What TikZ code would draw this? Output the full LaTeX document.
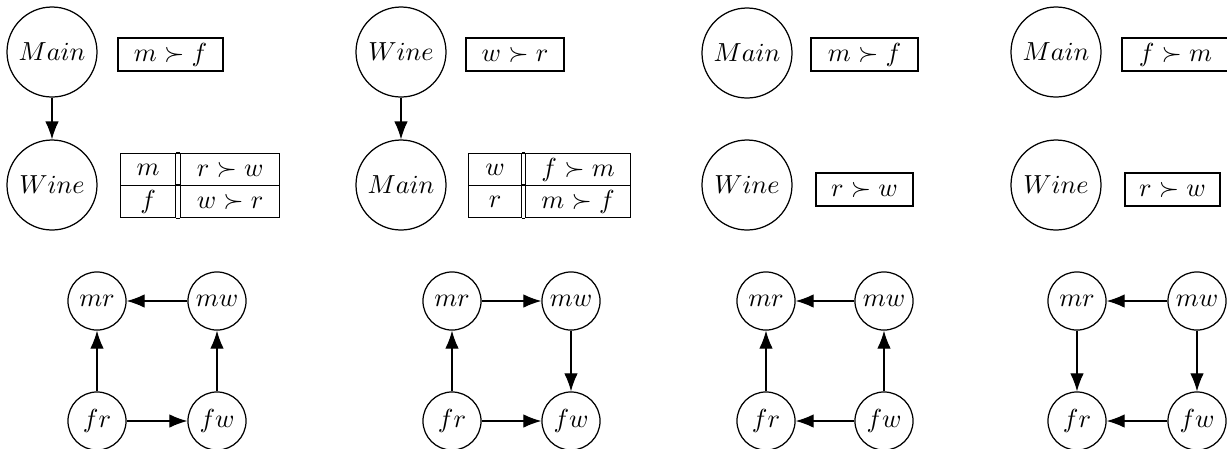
\RequirePackage{fix-cm}
\documentclass[tikz,border=0pt]{standalone}
\usetikzlibrary{arrows.meta}
\begin{document}
\begin{tikzpicture}[x=0.4444pt,y=-0.4444pt,
  line width=0.55pt,
  every node/.style={font=\fontsize{11.6}{14}\selectfont},
  big/.style={circle,draw,minimum size=40pt,inner sep=0pt},
  small/.style={circle,draw,minimum size=25.8pt,inner sep=0pt},
  pref/.style={draw,rectangle,minimum height=14.7pt,inner sep=0pt},
  cell/.style={draw,rectangle,minimum height=14.22pt,inner sep=0pt,anchor=north west},
  arr/.style={-{Latex[length=8pt,width=6pt]}}]
\useasboundingbox (0,0) rectangle (1227,448);

% ---------- Panel 1 ----------
\node[big] (p1main) at (52,52) {$Main$};
\node[big] (p1wine) at (52,185) {$Wine$};
\draw[arr] (p1main) -- (p1wine);
\node[pref,minimum width=46.67pt] (p1box) at (170.5,54.5) {$m \succ f$};
\node[cell,minimum width=24.44pt] (p1a) at (120,153) {$m$};
\node[cell,minimum width=44pt] (p1b) at (180,153) {$r \succ w$};
\node[cell,minimum width=24.44pt] (p1c) at (120,185) {$f$};
\node[cell,minimum width=44pt] (p1d) at (180,185) {$w \succ r$};
\draw (p1a.north east) -- (p1b.north west);
\draw (p1c.north east) -- (p1d.north west);
\draw (p1c.south east) -- (p1d.south west);
\node[small] (p1mr) at (97,301) {$mr$};
\node[small] (p1mw) at (217,301) {$mw$};
\node[small] (p1fr) at (97,421) {$fr$};
\node[small] (p1fw) at (217,421) {$fw$};
\draw[arr] (p1mw) -- (p1mr);
\draw[arr] (p1fr) -- (p1mr);
\draw[arr] (p1fw) -- (p1mw);
\draw[arr] (p1fr) -- (p1fw);

% ---------- Panel 2 ----------
\node[big] (p2wine) at (401,52) {$Wine$};
\node[big] (p2main) at (401,185) {$Main$};
\draw[arr] (p2wine) -- (p2main);
\node[pref,minimum width=43.56pt] (p2box) at (515,54.5) {$w \succ r$};
\node[cell,minimum width=23.56pt] (p2a) at (468,153) {$w$};
\node[cell,minimum width=46.67pt] (p2b) at (525,153) {$f \succ m$};
\node[cell,minimum width=23.56pt] (p2c) at (468,185) {$r$};
\node[cell,minimum width=46.67pt] (p2d) at (525,185) {$m \succ f$};
\draw (p2a.north east) -- (p2b.north west);
\draw (p2c.north east) -- (p2d.north west);
\draw (p2c.south east) -- (p2d.south west);
\node[small] (p2mr) at (452,301) {$mr$};
\node[small] (p2mw) at (571,301) {$mw$};
\node[small] (p2fr) at (452,421) {$fr$};
\node[small] (p2fw) at (571,421) {$fw$};
\draw[arr] (p2mr) -- (p2mw);
\draw[arr] (p2mw) -- (p2fw);
\draw[arr] (p2fr) -- (p2mr);
\draw[arr] (p2fr) -- (p2fw);

% ---------- Panel 3 ----------
\node[big] (p3main) at (747,53) {$Main$};
\node[big] (p3wine) at (747,185) {$Wine$};
\node[pref,minimum width=47.56pt] (p3box) at (864.5,54.5) {$m \succ f$};
\node[pref,minimum width=43.1pt] (p3boxb) at (864.5,189.5) {$r \succ w$};
\node[small] (p3mr) at (766,301) {$mr$};
\node[small] (p3mw) at (884,301) {$mw$};
\node[small] (p3fr) at (766,421) {$fr$};
\node[small] (p3fw) at (884,421) {$fw$};
\draw[arr] (p3mw) -- (p3mr);
\draw[arr] (p3fr) -- (p3mr);
\draw[arr] (p3fw) -- (p3mw);
\draw[arr] (p3fw) -- (p3fr);

% ---------- Panel 4 ----------
\node[big] (p4main) at (1056,52) {$Main$};
\node[big] (p4wine) at (1056,185) {$Wine$};
\node[pref,minimum width=47.56pt] (p4box) at (1175.5,54.5) {$f \succ m$};
\node[pref,minimum width=42.2pt] (p4boxb) at (1172.5,189.5) {$r \succ w$};
\node[small] (p4mr) at (1077,301) {$mr$};
\node[small] (p4mw) at (1197,301) {$mw$};
\node[small] (p4fr) at (1077,421) {$fr$};
\node[small] (p4fw) at (1197,421) {$fw$};
\draw[arr] (p4mw) -- (p4mr);
\draw[arr] (p4mr) -- (p4fr);
\draw[arr] (p4mw) -- (p4fw);
\draw[arr] (p4fw) -- (p4fr);
\end{tikzpicture}
\end{document}
